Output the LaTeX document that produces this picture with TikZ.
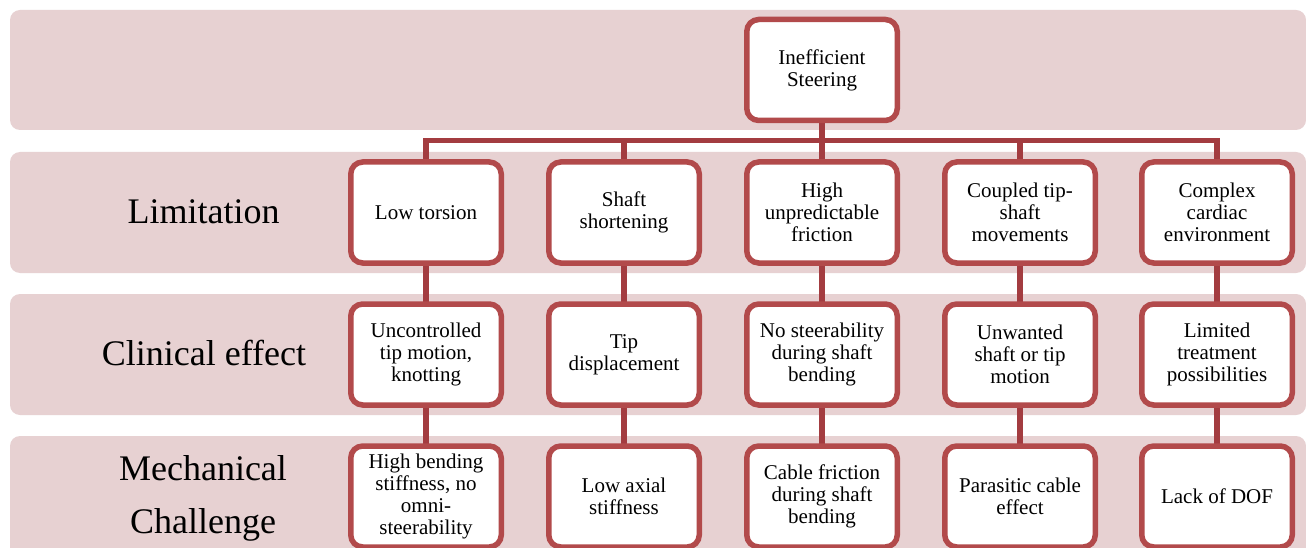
\documentclass[tikz,border=0pt]{standalone}
\usepackage{fontspec}
\setmainfont{Liberation Serif}
\pgfdeclarelayer{back}
\pgfdeclarelayer{mid}
\pgfsetlayers{back,mid,main}
\definecolor{bandfill}{HTML}{E7D1D2}
\definecolor{boxline}{HTML}{B24A4B}
\definecolor{linkline}{HTML}{A33C40}
\tikzset{
  box/.style={draw=boxline, line width=5.5pt, fill=white, rounded corners=12pt,
    minimum width=150.5pt, minimum height=101pt, inner sep=0pt, align=center,
    font=\fontsize{21}{22}\selectfont},
  band/.style={fill=bandfill, rounded corners=10pt},
  link/.style={draw=linkline, line width=5.5pt, line join=miter},
  rowlabel/.style={font=\fontsize{36}{53}\selectfont, inner sep=0pt, align=center}
}
\begin{document}
\begin{tikzpicture}[x=1pt,y=-1pt]
\useasboundingbox (0,0) rectangle (1306,548);
\clip (0,0) rectangle (1306,548);
\begin{pgfonlayer}{back}
  \fill[white] (0,0) rectangle (1306,548);
  \path[band] (10,10) rectangle (1306,130);
  \path[band] (10,152) rectangle (1306,273);
  \path[band] (10,294) rectangle (1306,415);
  \path[band] (10,436) rectangle (1306,570);
\end{pgfonlayer}

% row labels
\node[rowlabel, anchor=base] (labLim) at (203.5,224) {Limitation};
\node[rowlabel, anchor=base] (labCli) at (204,365) {Clinical effect};
\node[rowlabel] (labMec) at (203,498) {Mechanical\\Challenge};

% top
\node[box] (top) at (822,70) {Inefficient\\Steering};

% row 2
\node[box] (l1) at (426,212.5) {Low torsion};
\node[box] (l2) at (624,212.5) {Shaft\\shortening};
\node[box] (l3) at (822,212.5) {High\\unpredictable\\friction};
\node[box] (l4) at (1020,212.5) {Coupled tip-\\shaft\\movements};
\node[box] (l5) at (1217,212.5) {Complex\\cardiac\\environment};

% row 3
\node[box] (c1) at (426,354.5) {Uncontrolled\\tip motion,\\knotting};
\node[box] (c2) at (624,354.5) {Tip\\displacement};
\node[box] (c3) at (822,354.5) {No steerability\\during shaft\\bending};
\node[box] (c4) at (1020,354.5) {Unwanted\\shaft or tip\\motion};
\node[box] (c5) at (1217,354.5) {Limited\\treatment\\possibilities};

% row 4
\node[box] (m1) at (426,496.5) {High bending\\stiffness, no\\omni-\\steerability};
\node[box] (m2) at (624,496.5) {Low axial\\stiffness};
\node[box] (m3) at (822,496.5) {Cable friction\\during shaft\\bending};
\node[box] (m4) at (1020,496.5) {Parasitic cable\\effect};
\node[box] (m5) at (1217,496.5) {Lack of DOF};

\coordinate (hub) at (822,140.5);
\begin{pgfonlayer}{mid}
  \draw[link] (l1.center) |- (hub) -| (l5.center);
  \draw[link] (top.center) -- (l3.center);
  \draw[link] (l2.center) |- (hub);
  \draw[link] (l4.center) |- (hub);
  \foreach \i in {1,...,5}{
    \draw[link] (l\i.center) -- (c\i.center);
    \draw[link] (c\i.center) -- (m\i.center);
  }
\end{pgfonlayer}
\end{tikzpicture}
\end{document}
